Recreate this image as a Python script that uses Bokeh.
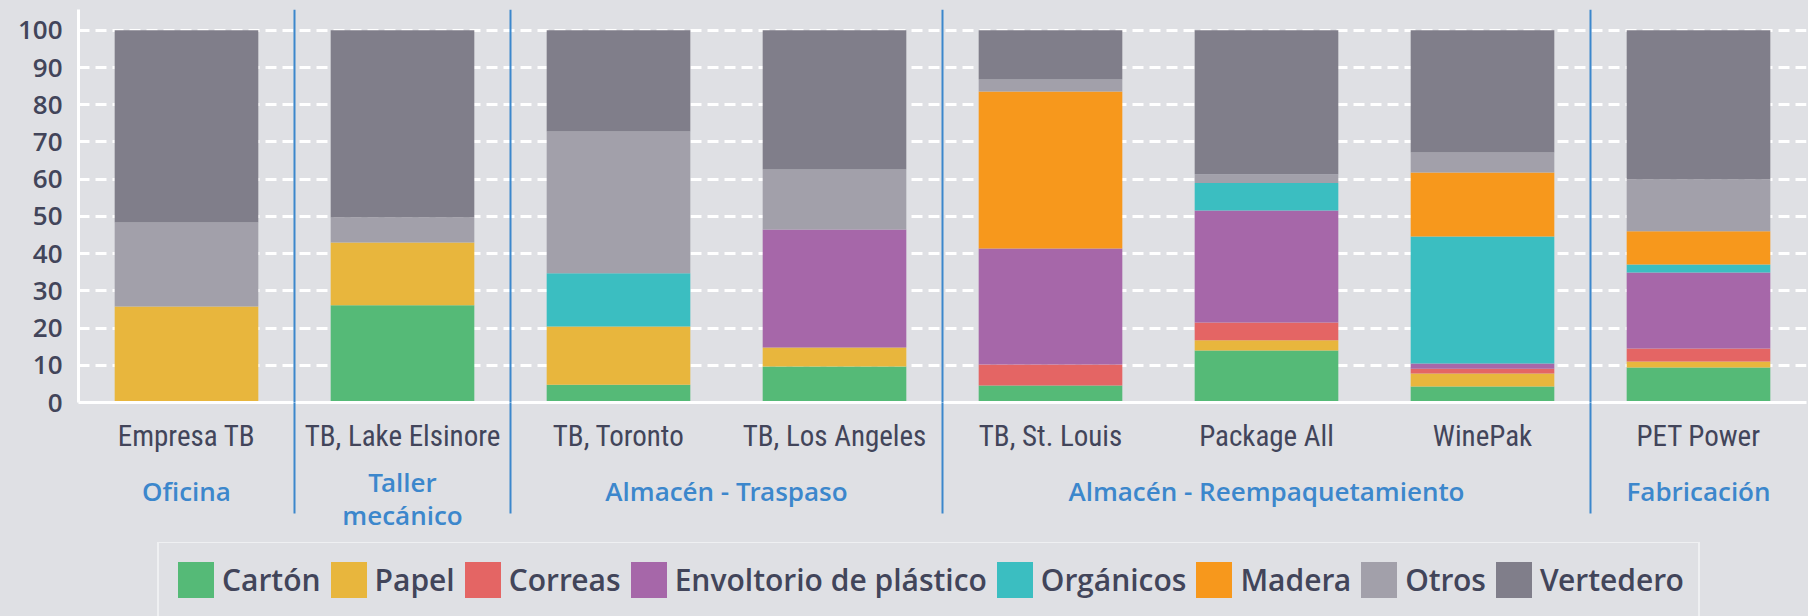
from bokeh.plotting import figure
from bokeh.layouts import column
from bokeh.models import (FixedTicker, LinearAxis, Range1d, Span, Legend, LegendItem,
                          ColumnDataSource)
from bokeh.embed import file_html
from bokeh.resources import INLINE

# ---------------- data ----------------
categories = ["Empresa TB", "TB, Lake Elsinore", "TB, Toronto", "TB, Los Angeles",
              "TB, St. Louis", "Package All", "WinePak", "PET Power"]
groups = ["Oficina", "Taller\nmecánico", "Almacén - Traspaso",
          "Almacén - Reempaquetamiento", "Fabricación"]
group_sizes = [1, 1, 2, 3, 1]
materials = ["Cartón", "Papel", "Correas", "Envoltorio de plástico",
             "Orgánicos", "Madera", "Otros", "Vertedero"]

carton     = [0.0, 26.1, 4.8, 9.7, 4.6, 14.0, 4.3, 9.4]
papel      = [25.8, 16.9, 15.6, 5.1, 0.0, 2.7, 3.5, 1.6]
correas    = [0.0, 0.0, 0.0, 0.0, 5.6, 4.8, 1.3, 3.5]
envoltorio = [0.0, 0.0, 0.0, 31.7, 31.2, 30.1, 1.4, 20.4]
organicos  = [0.0, 0.0, 14.3, 0.0, 0.0, 7.4, 34.1, 2.2]
madera     = [0.0, 0.0, 0.0, 0.0, 42.2, 0.0, 17.2, 8.9]
otros      = [22.6, 6.7, 38.1, 16.1, 3.2, 2.3, 5.4, 13.9]
vertedero  = [51.6, 50.3, 27.2, 37.4, 13.2, 38.7, 32.8, 40.1]

y_ticks = [0, 10, 20, 30, 40, 50, 60, 70, 80, 90, 100]

# ---------------- style ----------------
BG = "#dfe0e4"
TXT = "#42455a"
BLUE = "#3c87cc"
colors = ["#55ba77", "#e8b63d", "#e46564", "#a667a9",
          "#3bbec1", "#f7981c", "#a2a0aa", "#807e8a"]
FONT = "'Open Sans SemiBold', 'Open Sans Semibold', 'Noto Sans SemiBold', 'Lato Semibold'"
NARROW = "'Roboto Condensed', 'DejaVu Sans Condensed', sans-serif"
SEP_LEN = 111
W = 1808
TOTAL_H = 616
BOTTOM = 140
MAIN_H = 9 + 393 + BOTTOM

series = [carton, papel, correas, envoltorio, organicos, madera, otros, vertedero]
keys = ["m%d" % i for i in range(len(materials))]
xs = [i + 0.5 for i in range(len(categories))]
data = {"x": xs}
for k, s in zip(keys, series):
    data[k] = s
source = ColumnDataSource(data)

p = figure(width=W, height=MAIN_H, output_backend="svg", toolbar_location=None,
           x_range=Range1d(0, len(categories)), y_range=Range1d(0, 105.6),
           min_border_left=78, min_border_right=2, min_border_top=9,
           min_border_bottom=BOTTOM, background_fill_color=BG, border_fill_color=BG,
           outline_line_color=None)

renderers = p.vbar_stack(keys, x="x", width=0.665, source=source,
                         color=colors, line_color=None)

# grid
p.xgrid.visible = False
p.ygrid.grid_line_color = "white"
p.ygrid.grid_line_width = 3
p.ygrid.grid_line_dash = "11 6"

# y axis
yax = p.yaxis[0]
yax.ticker = FixedTicker(ticks=y_ticks)
yax.major_tick_out = 0
yax.major_tick_in = 0
yax.minor_tick_out = 0
yax.minor_tick_in = 0
yax.axis_line_color = "white"
yax.axis_line_width = 3
yax.major_label_text_font = FONT
yax.major_label_text_font_size = "26px"
yax.major_label_text_color = TXT
yax.major_label_standoff = 16

# boundaries between groups and group centres
bounds = []
acc = 0
for g in group_sizes[:-1]:
    acc += g
    bounds.append(acc)
centers = []
acc = 0
for g in group_sizes:
    centers.append(acc + g / 2)
    acc += g

# category axis (minor ticks continue the group separators below the frame)
xax = p.xaxis[0]
xax.ticker = FixedTicker(ticks=xs, minor_ticks=bounds)
xax.major_label_overrides = {x: c for x, c in zip(xs, categories)}
xax.major_tick_out = 0
xax.major_tick_in = 0
xax.minor_tick_in = 0
xax.minor_tick_out = SEP_LEN
xax.minor_tick_line_color = BLUE
xax.minor_tick_line_width = 2
xax.axis_line_color = "white"
xax.axis_line_width = 3
xax.major_label_text_font = NARROW
xax.major_label_text_font_size = "29px"
xax.major_label_text_color = TXT
xax.major_label_standoff = 16 - SEP_LEN

# group axes: one-line group names, then the two-line one (raised a little)
single = [(c, g) for c, g in zip(centers, groups) if "\n" not in g]
multi = [(c, g) for c, g in zip(centers, groups) if "\n" in g]

def group_axis(items, standoff):
    return LinearAxis(ticker=FixedTicker(ticks=[c for c, _ in items]),
                      major_label_overrides={c: g for c, g in items},
                      major_tick_out=0, major_tick_in=0, minor_tick_out=0, minor_tick_in=0,
                      axis_line_color=None, major_label_text_font=FONT,
                      major_label_text_font_size="26px", major_label_text_color=BLUE,
                      major_label_text_line_height=0.92,
                      major_label_standoff=standoff)

p.add_layout(group_axis(single, 17), "below")
p.add_layout(group_axis(multi, -48), "below")

for b in bounds:
    p.add_layout(Span(location=b, dimension="height", line_color=BLUE, line_width=2))

# ---------------- legend strip ----------------
LEG_H = TOTAL_H - MAIN_H
lf = figure(width=W, height=LEG_H, output_backend="svg", toolbar_location=None,
            x_axis_type=None, y_axis_type=None, min_border=0,
            x_range=Range1d(0, len(categories)), y_range=Range1d(1000, 1001),
            background_fill_color=BG, border_fill_color=BG, outline_line_color=None)
lf.xgrid.visible = False
lf.ygrid.visible = False
lrs = lf.vbar_stack(keys, x="x", width=0.665, source=source,
                    color=colors, line_color=None)

legend = Legend(items=[LegendItem(label=m, renderers=[r]) for m, r in zip(materials, lrs)],
                orientation="horizontal", location=(79, -2),
                glyph_width=45, glyph_height=45, label_height=45,
                label_text_font=FONT, label_text_font_size="30px",
                label_text_color=TXT, spacing=5, label_standoff=4,
                padding=14, margin=0, border_line_color="white",
                border_line_width=2, background_fill_color=BG,
                background_fill_alpha=1.0)
lf.add_layout(legend, "center")

layout = column(p, lf, spacing=0, styles={"background-color": BG})
open("out.html", "w").write(file_html(layout, INLINE))
